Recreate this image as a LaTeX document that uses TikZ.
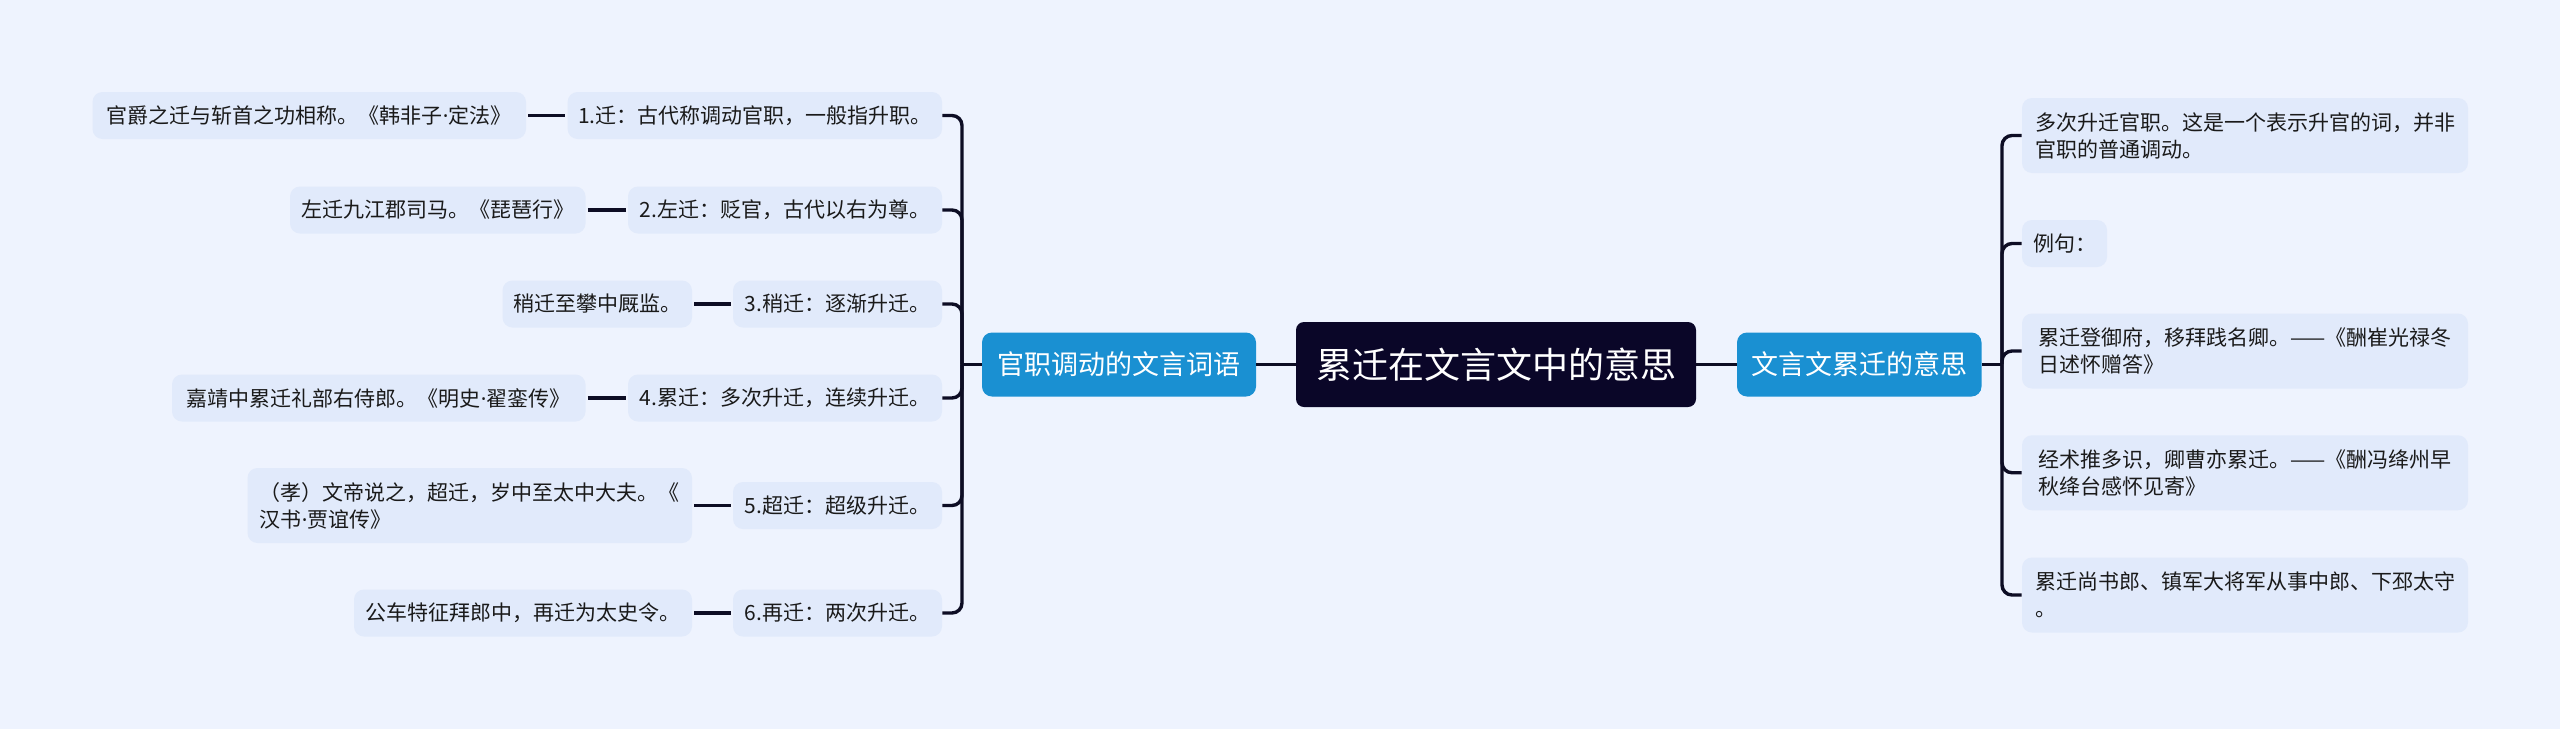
\documentclass[tikz,border=0pt]{standalone}
\usepackage{fontspec}
\setmainfont{Noto Sans CJK SC}
\newfontfamily\latinf{Noto Sans}
\newcommand{\mdot}{{\latinf ·}}
\definecolor{bgc}{HTML}{EEF3FE}
\definecolor{boxc}{HTML}{E1EAFB}
\definecolor{bluec}{HTML}{1A90D2}
\definecolor{rootc}{HTML}{0A0628}
\definecolor{linec}{HTML}{0D0D24}
\definecolor{txtc}{HTML}{1A1A1A}
\begin{document}
\begin{tikzpicture}[x=0.5pt,y=-0.5pt,
 leaf/.style={fill=boxc, rounded corners=5pt, inner sep=0pt, minimum height=23.5pt, text=txtc, font=\fontsize{10.5pt}{13.5pt}\selectfont, align=left},
 leaftwo/.style={leaf, minimum height=37.5pt},
 branch/.style={fill=bluec, rounded corners=5pt, inner sep=0pt, minimum height=32pt, text=white, font=\fontsize{13.5pt}{16pt}\selectfont},
 rootn/.style={fill=rootc, rounded corners=4pt, inner sep=0pt, minimum height=42.5pt, minimum width=200pt, text=white, font=\fontsize{18pt}{22pt}\selectfont},
 conn/.style={draw=linec, line width=1.7pt, rounded corners=5pt},
 tie/.style={draw=linec, line width=1.7pt, shorten <=1pt, shorten >=1pt},
]
\fill[bgc] (0,0) rectangle (2560,729);
\useasboundingbox (0,0) rectangle (2560,729);

% centre
\node[rootn] (root) at (1496,364.5) {累迁在文言文中的意思};
\node[branch, minimum width=137pt] (LB) at (1119,364.5) {官职调动的文言词语};
\node[branch, minimum width=122.25pt] (RB) at (1859.25,364.5) {文言文累迁的意思};

% left level 2
\node[leaf, minimum width=187.2pt] (b1) at (754.8,115.5) {1.迁：古代称调动官职，一般指升职。};
\node[leaf, minimum width=157pt] (b2) at (785,210) {2.左迁：贬官，古代以右为尊。};
\node[leaf, minimum width=104.5pt] (b3) at (837.5,304) {3.稍迁：逐渐升迁。};
\node[leaf, minimum width=157pt] (b4) at (785,398) {4.累迁：多次升迁，连续升迁。};
\node[leaf, minimum width=104.5pt] (b5) at (837.5,505.5) {5.超迁：超级升迁。};
\node[leaf, minimum width=104.5pt] (b6) at (837.5,613) {6.再迁：两次升迁。};

% left level 3
\node[leaf, minimum width=216.75pt] (a1) at (309.25,115.5) {官爵之迁与斩首之功相称。《韩非子\mdot 定法》};
\node[leaf, minimum width=147.75pt] (a2) at (437.75,210) {左迁九江郡司马。《琵琶行》};
\node[leaf, minimum width=94.75pt] (a3) at (597.25,304) {稍迁至攀中厩监。};
\node[leaf, minimum width=206.75pt] (a4) at (378.75,398) {嘉靖中累迁礼部右侍郎。《明史\mdot 翟銮传》};
\node[leaftwo, minimum width=222.25pt] (a5) at (469.75,505.5) {（孝）文帝说之，超迁，岁中至太中大夫。《\\汉书\mdot 贾谊传》};
\node[leaf, minimum width=169pt] (a6) at (523,613) {公车特征拜郎中，再迁为太史令。};

% right children
\node[leaftwo, minimum width=223pt] (c1) at (2245,135.5) {多次升迁官职。这是一个表示升官的词，并非\\官职的普通调动。};
\node[leaf, minimum width=42.5pt] (c2) at (2064.5,243.5) {例句：};
\node[leaftwo, minimum width=223pt] (c3) at (2245,351) {累迁登御府，移拜践名卿。——《酬崔光禄冬\\日述怀赠答》};
\node[leaftwo, minimum width=223pt] (c4) at (2245,472.75) {经术推多识，卿曹亦累迁。——《酬冯绛州早\\秋绛台感怀见寄》};
\node[leaftwo, minimum width=223pt] (c5) at (2245,595) {累迁尚书郎、镇军大将军从事中郎、下邳太守\\。};

% junctions
\coordinate (lj) at (962,364.5);
\coordinate (rj) at (2002,364.5);

% connectors
\draw[conn] (root.west) -- (LB.east);
\draw[conn] (root.east) -- (RB.west);
\draw[conn] (LB.west) -- (lj);
\draw[conn] (RB.east) -- (rj);
\foreach \n in {b1,b2,b3,b4,b5,b6} {\draw[conn] (lj) |- (\n.east);}
\foreach \n in {c1,c2,c3,c4,c5} {\draw[conn] (rj) |- (\n.west);}
\draw[tie] (a1.east) -- (b1.west);
\draw[tie] (a2.east) -- (b2.west);
\draw[tie] (a3.east) -- (b3.west);
\draw[tie] (a4.east) -- (b4.west);
\draw[tie] (a5.east) -- (b5.west);
\draw[tie] (a6.east) -- (b6.west);
\end{tikzpicture}
\end{document}
